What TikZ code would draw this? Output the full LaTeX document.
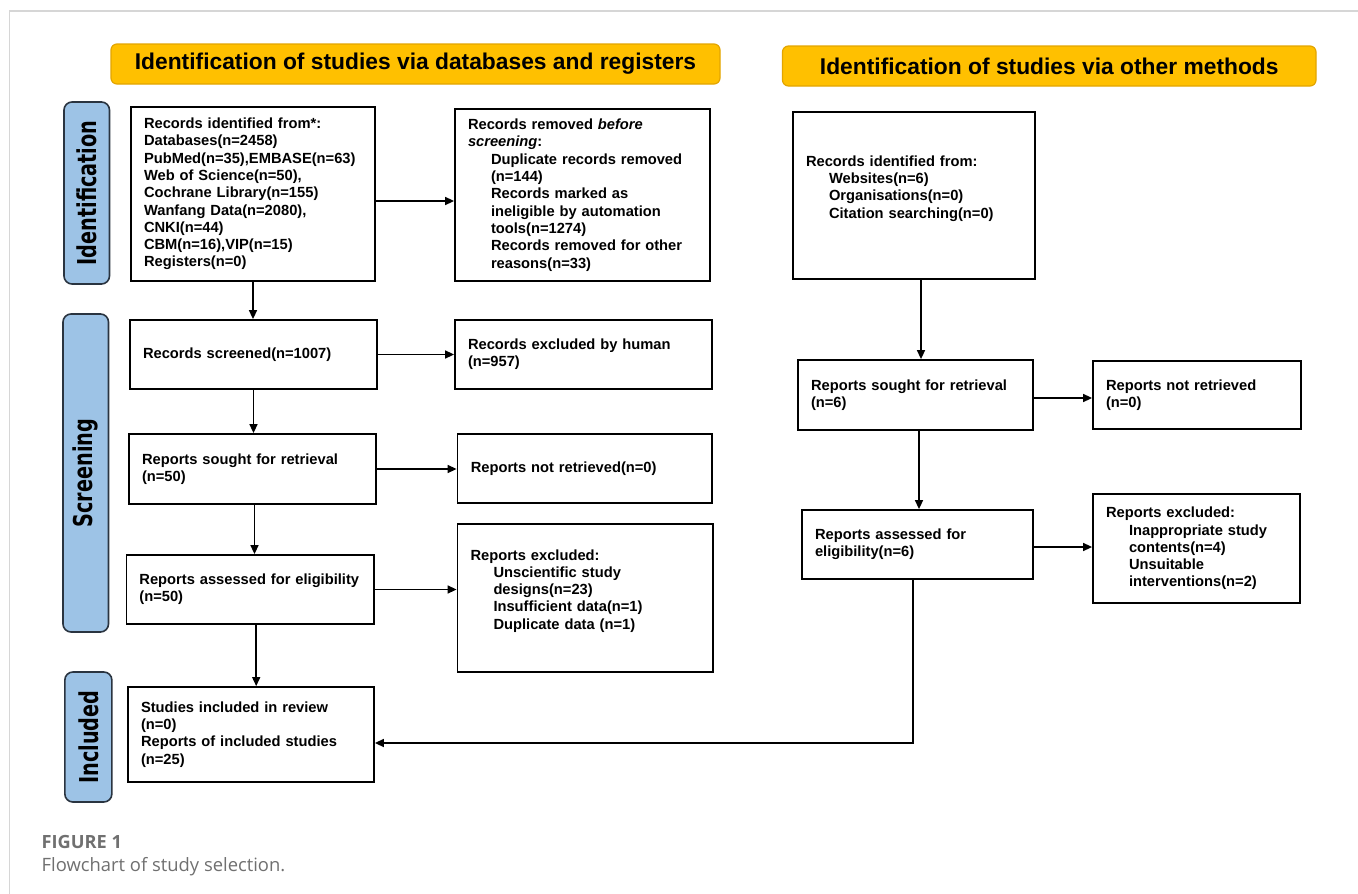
\documentclass[tikz,border=0pt]{standalone}
\usepackage{fontspec}
\setmainfont{Liberation Sans}
\newfontfamily\sidefont{DejaVu Sans}[FakeStretch=0.74]
\newfontfamily\capfont{Open Sans}
\usetikzlibrary{arrows.meta}
\definecolor{hdrfill}{HTML}{FFC000}
\definecolor{hdrline}{HTML}{E3A500}
\definecolor{sidefill}{HTML}{9DC3E6}
\definecolor{sideline}{HTML}{2A3440}
\definecolor{framegray}{HTML}{D6D6D6}
\definecolor{capgray}{HTML}{707070}
\newcommand{\ind}{\hspace*{23pt}}

\begin{document}
\begin{tikzpicture}[x=1pt, y=-1pt,
box/.style={draw, line width=1.8pt, align=left, inner xsep=13pt, inner ysep=0pt,
  font=\fontsize{14.7}{17.3}\selectfont\bfseries},
hdr/.style={draw=hdrline, fill=hdrfill, line width=1.2pt, rounded corners=6pt,
  minimum height=40pt, font=\fontsize{22.8}{26}\selectfont\bfseries},
phase/.style={draw=sideline, fill=sidefill, line width=1.6pt, rounded corners=8pt,
  rotate=90, inner sep=0pt, font=\fontsize{26}{28}\selectfont\sidefont\bfseries},
edge/.style={-{Triangle[length=9pt,width=8pt]}, line width=1.5pt}
]
\useasboundingbox[fill=white] (0,0) rectangle (1358,894);
\draw[framegray, line width=1.5pt] (1358,11) -- (9.5,11) -- (9.5,894);

% headers and phase labels
\node[hdr, minimum width=609pt] (hdrdb) at (415.5,64) {Identification of studies via databases and registers};
\node[hdr, minimum width=533.5pt] (hdrother) at (1049.25,66) {Identification of studies via other methods};
\node[phase, minimum width=182pt, minimum height=45.5pt] (phid) at (86.75,193) {Identification};
\node[phase, minimum width=318pt, minimum height=45.5pt] (phscr) at (85.75,473) {Screening};
\node[phase, minimum width=130pt, minimum height=47pt] (phinc) at (88.35,737) {Included};

% databases and registers
\node[box, minimum width=244pt, text width=218pt, minimum height=174pt] (ident) at (253,194)
  {Records identified from*:\\ Databases(n=2458)\\ PubMed(n=35),EMBASE(n=63)\\ Web of Science(n=50),\\
   Cochrane Library(n=155)\\ Wanfang Data(n=2080),\\ CNKI(n=44)\\ CBM(n=16),VIP(n=15)\\ Registers(n=0)};
\node[box, minimum width=255pt, text width=229pt, minimum height=172pt] (removed) at (582.5,195)
  {Records removed \textit{before}\\ \textit{screening}:\\ \ind Duplicate records removed\\ \ind (n=144)\\
   \ind Records marked as\\ \ind ineligible by automation\\ \ind tools(n=1274)\\ \ind Records removed for other\\ \ind reasons(n=33)};
\node[box, minimum width=247pt, text width=221pt, minimum height=69pt] (screened) at (253.5,354.5)
  {Records screened(n=1007)};
\node[box, minimum width=257pt, text width=231pt, minimum height=69pt] (exhuman) at (583.5,354.5)
  {Records excluded by human\\ (n=957)};
\node[box, minimum width=247pt, text width=221pt, minimum height=70pt] (sought) at (252.5,469)
  {Reports sought for retrieval\\ (n=50)};
\node[box, minimum width=254.5pt, text width=228pt, minimum height=69pt] (notret) at (584.75,468.5)
  {Reports not retrieved(n=0)};
\node[box, minimum width=247.6pt, text width=221.6pt, minimum height=69pt] (assessed) at (250.2,589.5)
  {Reports assessed for eligibility\\ (n=50)};
\node[box, minimum width=255.5pt, text width=229.5pt, minimum height=148pt] (excluded) at (585.25,598)
  {Reports excluded:\\ \ind Unscientific study\\ \ind designs(n=23)\\ \ind Insufficient data(n=1)\\ \ind Duplicate data (n=1)\\ \mbox{}};
\node[box, minimum width=246pt, text width=220pt, minimum height=95pt] (included) at (251,734.5)
  {Studies included in review\\ (n=0)\\ Reports of included studies\\ (n=25)};

% other methods
\node[box, minimum width=242pt, text width=216pt, minimum height=167pt] (otherid) at (914,195.5)
  {Records identified from:\\ \ind Websites(n=6)\\ \ind Organisations(n=0)\\ \ind Citation searching(n=0)\\ \mbox{}};
\node[box, minimum width=235pt, text width=209pt, minimum height=70pt] (osought) at (915.5,395)
  {Reports sought for retrieval\\ (n=6)};
\node[box, minimum width=208pt, text width=182pt, minimum height=68pt] (onotret) at (1197,395)
  {Reports not retrieved\\ (n=0)};
\node[box, minimum width=231pt, text width=205pt, minimum height=69pt] (oassessed) at (917.5,544.5)
  {Reports assessed for\\ eligibility(n=6)};
\node[box, minimum width=207pt, text width=181pt, minimum height=109pt] (oexcluded) at (1196.5,548.5)
  {Reports excluded:\\ \ind Inappropriate study\\ \ind contents(n=4)\\ \ind Unsuitable\\ \ind interventions(n=2)};

\draw[edge] ([yshift=-7pt]ident.east) -- ([yshift=-6pt]removed.west);
\draw[edge] (ident.south) -- (ident.south |- screened.north);
\draw[edge] (screened.east) -- (screened.east -| exhuman.west);
\draw[edge] (screened.south) -- (screened.south |- sought.north);
\draw[edge] (sought.east) -- (sought.east -| notret.west);
\draw[edge] ([xshift=2pt]sought.south) -- ([xshift=2pt]sought.south |- assessed.north);
\draw[edge] (assessed.east) -- (assessed.east -| excluded.west);
\draw[edge] ([xshift=6pt]assessed.south) -- ([xshift=6pt]assessed.south |- included.north);
\draw[edge] ([xshift=7pt]otherid.south) -- ([xshift=7pt]otherid.south |- osought.north);
\draw[edge] ([yshift=-3pt]osought.east) -- ([yshift=-3pt]osought.east -| onotret.west);
\draw[edge] ([xshift=3.5pt]osought.south) -- ([xshift=3.5pt]osought.south |- oassessed.north);
\draw[edge] ([yshift=-2.5pt]oassessed.east) -- ([yshift=-2.5pt]oassessed.east -| oexcluded.west);
\draw[edge] ([xshift=-4.5pt]oassessed.south) |- ([yshift=-8.5pt]included.east);

% caption
\node[anchor=base west, inner sep=0pt, text=capgray, font=\capfont\fontsize{18.2}{21}\selectfont\bfseries] (fig) at (41.5,848) {FIGURE 1};
\node[anchor=base west, inner sep=0pt, text=capgray, font=\capfont\fontsize{18.4}{22}\selectfont] (figcap) at (41.5,871) {Flowchart of study selection.};
\end{tikzpicture}
\end{document}
